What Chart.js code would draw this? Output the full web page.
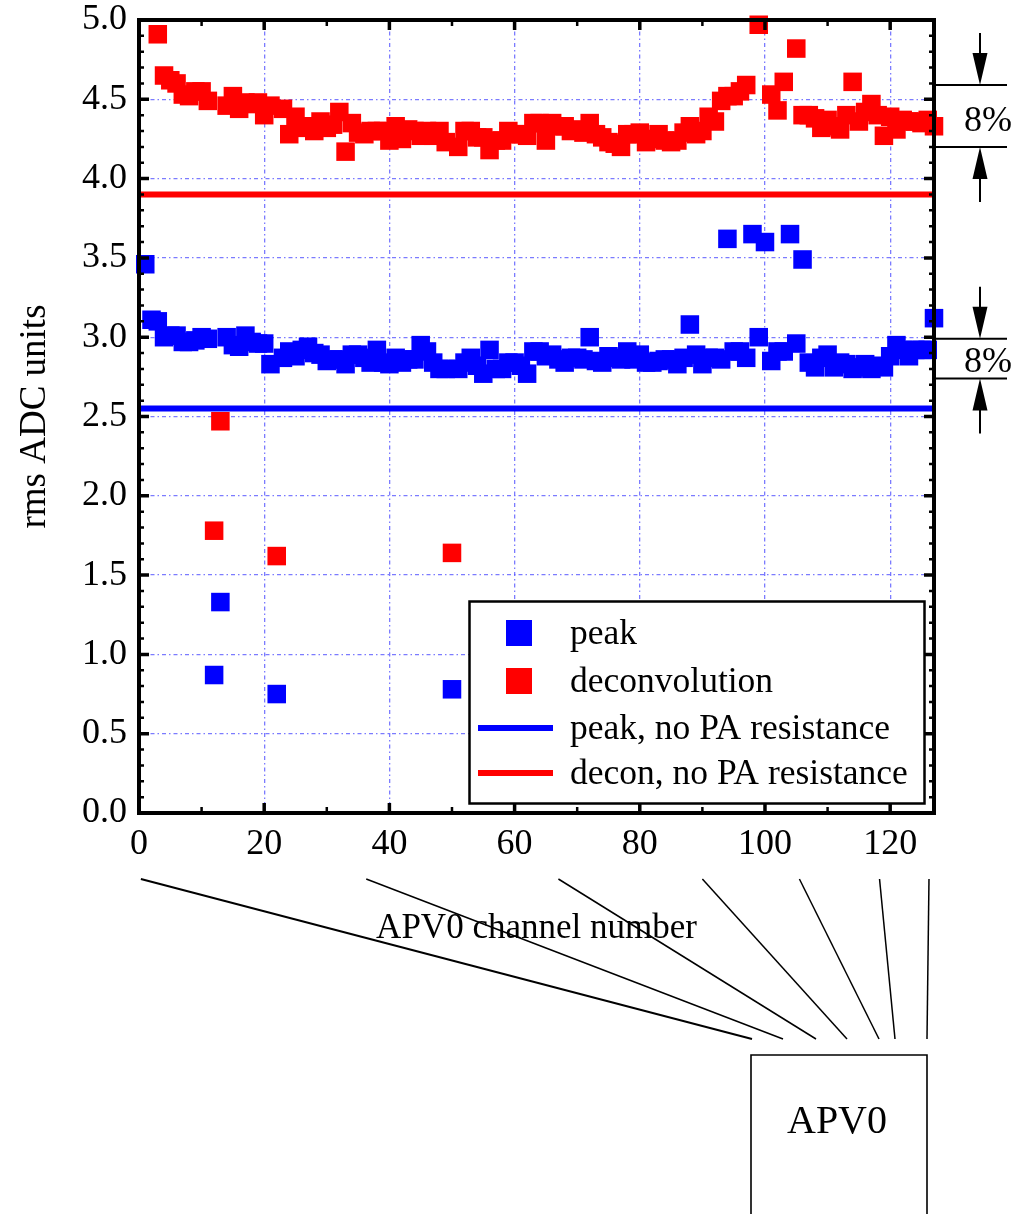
<!DOCTYPE html>
<html><head><meta charset="utf-8">
<script src="https://cdn.jsdelivr.net/npm/chart.js@4.4.0/dist/chart.umd.min.js"></script>
<style>html,body{margin:0;padding:0;background:#fff;} #wrap{position:relative;width:1026px;height:1214px;}</style>
</head><body><div id="wrap"><canvas id="c" width="1026" height="1214"></canvas></div>
<script>
// ---------- data ----------
const channels = [0,1,2,3,4,5,6,7,8,9,10,11,12,13,14,15,16,17,18,19,20,21,22,23,24,25,26,27,28,29,
30,31,32,33,34,35,36,37,38,39,40,41,42,43,44,45,46,47,48,49,50,51,52,53,54,55,56,57,58,59,
60,61,62,63,64,65,66,67,68,69,70,71,72,73,74,75,76,77,78,79,80,81,82,83,84,85,86,87,88,89,
90,91,92,93,94,95,96,97,98,99,100,101,102,103,104,105,106,107,108,109,110,111,112,113,114,115,116,117,118,119,
120,121,122,123,124,125,126,127];

const peak = [null,3.46,3.11,3.10,3.00,3.01,3.01,2.97,2.97,2.98,3.00,2.99,0.87,1.33,3.00,2.95,2.94,3.01,2.97,2.96,
2.96,2.83,0.75,2.87,2.91,2.88,2.92,2.94,2.90,2.89,2.85,2.86,2.86,2.83,2.89,2.89,2.87,2.84,2.92,2.84,
2.83,2.87,2.84,2.86,2.86,2.95,2.91,2.84,2.80,2.80,0.78,2.80,2.84,2.87,2.82,2.77,2.92,2.80,2.80,2.84,
2.84,2.82,2.77,2.91,2.91,2.88,2.89,2.86,2.84,2.87,2.87,2.86,3.00,2.85,2.84,2.88,2.87,2.86,2.91,2.86,
2.89,2.84,2.84,2.85,2.86,2.86,2.83,2.87,3.08,2.89,2.83,2.87,2.87,2.86,3.62,2.91,2.91,2.87,3.65,3.00,
3.60,2.85,2.91,2.91,3.65,2.96,3.49,2.84,2.81,2.87,2.89,2.81,2.84,2.83,2.80,2.81,2.83,2.80,2.82,2.81,
2.88,2.95,2.92,2.88,2.92,2.92,2.92,3.12];

const decon = [null,null,null,4.91,4.65,4.62,4.60,4.53,4.52,4.55,4.55,4.49,1.78,2.47,4.46,4.52,4.44,4.48,4.47,4.48,
4.40,4.46,1.62,4.44,4.28,4.39,4.32,4.33,4.30,4.36,4.32,4.34,4.42,4.17,4.35,4.29,4.28,4.30,4.30,4.30,
4.24,4.33,4.25,4.31,4.30,4.27,4.30,4.27,4.30,4.23,1.64,4.20,4.30,4.30,4.26,4.26,4.18,4.24,4.24,4.30,
4.28,4.28,4.27,4.35,4.35,4.24,4.35,4.33,4.33,4.30,4.31,4.29,4.35,4.28,4.26,4.23,4.22,4.20,4.28,4.28,
4.29,4.23,4.25,4.28,4.24,4.23,4.24,4.29,4.33,4.28,4.30,4.39,4.36,4.49,4.52,4.52,4.55,4.59,null,4.97,
null,4.53,4.43,4.61,null,4.82,4.40,4.40,4.38,4.32,4.37,4.33,4.31,4.40,4.61,4.36,4.42,4.47,4.40,4.27,
4.39,4.31,4.37,4.36,4.36,4.35,4.37,4.33];

const peakNoPA = 2.55;
const deconNoPA = 3.90;
const xRange = [0, 127];
const yRange = [0, 5];
const xTickValues = [0, 20, 40, 60, 80, 100, 120];
const yTickStep = 0.5;
const seriesLabels = ['peak', 'deconvolution', 'peak, no PA resistance', 'decon, no PA resistance'];
const pctBrackets = [[4.59, 4.20], [2.99, 2.74]];
const pctLabel = '8%';
const fanChannels = [0.3, 36.3, 67, 90, 105.5, 118.3, 126.2];
const chipLabel = 'APV0';
const xTitle = 'APV0 channel number';
const yTitle = 'rms ADC units';

// ---------- chart ----------
const FONT = "'Liberation Serif','Times New Roman',serif";
Chart.defaults.font.family = FONT;
Chart.defaults.color = '#000';

const pts = arr => channels.map((c, i) => ({x: c, y: arr[i]})).filter(p => p.y !== null);
const hline = v => [{x: xRange[0], y: v}, {x: xRange[1], y: v}];

const overlay = {
  id: 'overlay',
  afterDraw(chart) {
    const {ctx, chartArea: a, scales: {x, y}} = chart;
    ctx.save();
    // frame
    ctx.strokeStyle = '#000';
    ctx.lineWidth = 4;
    ctx.strokeRect(a.left, a.top, a.right - a.left, a.bottom - a.top);
    // y ticks
    for (let k = 0; k <= 50; k++) {
      const v = k / 10;
      const py = y.getPixelForValue(v);
      const major = k % 5 === 0;
      const len = major ? 10 : 5;
      ctx.lineWidth = major ? 3.5 : 2.5;
      ctx.beginPath();
      ctx.moveTo(a.left, py); ctx.lineTo(a.left + len, py);
      ctx.moveTo(a.right, py); ctx.lineTo(a.right - len, py);
      ctx.stroke();
    }
    // x ticks
    for (let v = 0; v <= 120; v += 10) {
      const px = x.getPixelForValue(v);
      const major = v % 20 === 0;
      const len = major ? 10 : 6;
      ctx.lineWidth = major ? 3.5 : 2.5;
      ctx.beginPath();
      ctx.moveTo(px, a.bottom); ctx.lineTo(px, a.bottom - len);
      ctx.moveTo(px, a.top); ctx.lineTo(px, a.top + len);
      ctx.stroke();
    }
    // legend
    const L = {x: 469.5, y: 601.5, w: 455, h: 202};
    ctx.fillStyle = '#fff';
    ctx.fillRect(L.x, L.y, L.w, L.h);
    ctx.lineWidth = 2.5;
    ctx.strokeStyle = '#000';
    ctx.strokeRect(L.x, L.y, L.w, L.h);
    const rows = [633, 681, 728, 773];
    const ds = chart.data.datasets;
    ctx.font = '35.5px ' + FONT;
    ctx.textBaseline = 'middle';
    ctx.textAlign = 'left';
    rows.forEach((ry, i) => {
      const d = ds[i];
      if (i < 2) {
        ctx.fillStyle = d.backgroundColor;
        ctx.fillRect(506, ry - 13, 26, 26);
      } else {
        ctx.strokeStyle = d.borderColor;
        ctx.lineWidth = 6;
        ctx.beginPath(); ctx.moveTo(478, ry); ctx.lineTo(553, ry); ctx.stroke();
      }
      ctx.fillStyle = '#000';
      ctx.fillText(d.label, 570, ry + 2);
    });
    // 8% brackets
    const ax = 980, hx0 = a.right, hx1 = 1007;
    const baseOff = [16, 6];
    pctBrackets.forEach(([hi, lo], j) => {
      const y1 = y.getPixelForValue(hi), y2 = y.getPixelForValue(lo);
      ctx.strokeStyle = '#000'; ctx.fillStyle = '#000';
      ctx.lineWidth = 2;
      ctx.beginPath();
      ctx.moveTo(hx0, y1); ctx.lineTo(hx1, y1);
      ctx.moveTo(hx0, y2); ctx.lineTo(hx1, y2);
      ctx.moveTo(ax, y1 - 52); ctx.lineTo(ax, y1 - 20);
      ctx.moveTo(ax, y2 + 20); ctx.lineTo(ax, y2 + 55);
      ctx.stroke();
      ctx.beginPath();
      ctx.moveTo(ax, y1); ctx.lineTo(ax - 7.5, y1 - 32); ctx.lineTo(ax + 7.5, y1 - 32); ctx.closePath();
      ctx.moveTo(ax, y2); ctx.lineTo(ax - 7.5, y2 + 32); ctx.lineTo(ax + 7.5, y2 + 32); ctx.closePath();
      ctx.fill();
      ctx.font = '36px ' + FONT;
      ctx.textAlign = 'center';
      ctx.textBaseline = 'alphabetic';
      ctx.fillText(pctLabel, 988, y2 - baseOff[j]);
    });
    // fan lines to chip
    const fanEnds = [752, 783, 816, 847, 879, 895, 927];
    ctx.strokeStyle = '#000';
    fanChannels.forEach((c, i) => {
      ctx.lineWidth = i === 0 ? 2 : 1.5;
      ctx.beginPath();
      ctx.moveTo(x.getPixelForValue(c), 879);
      ctx.lineTo(fanEnds[i], 1039);
      ctx.stroke();
    });
    // chip box
    ctx.lineWidth = 1.6;
    ctx.beginPath();
    ctx.moveTo(751, 1220); ctx.lineTo(751, 1055); ctx.lineTo(927, 1055); ctx.lineTo(927, 1220);
    ctx.stroke();
    ctx.font = '40px ' + FONT;
    ctx.textAlign = 'center';
    ctx.textBaseline = 'middle';
    ctx.fillText(chipLabel, 837, 1122);
    ctx.restore();
  }
};

new Chart(document.getElementById('c'), {
  type: 'scatter',
  data: {
    datasets: [
      {label: seriesLabels[0], data: pts(peak), backgroundColor: '#0000ff', borderColor: '#0000ff', clip: false,
       pointStyle: 'rect', pointRadius: 13.1, pointBorderWidth: 0, pointHoverRadius: 13.1},
      {label: seriesLabels[1], data: pts(decon), backgroundColor: '#ff0000', borderColor: '#ff0000', clip: false,
       pointStyle: 'rect', pointRadius: 13.1, pointBorderWidth: 0, pointHoverRadius: 13.1},
      {label: seriesLabels[2], data: hline(peakNoPA), showLine: true, borderColor: '#0000ff',
       backgroundColor: '#0000ff', borderWidth: 6, pointRadius: 0},
      {label: seriesLabels[3], data: hline(deconNoPA), showLine: true, borderColor: '#ff0000',
       backgroundColor: '#ff0000', borderWidth: 6, pointRadius: 0}
    ]
  },
  options: {
    responsive: false,
    animation: false,
    events: [],
    layout: {padding: {left: 0, top: 20, right: 92, bottom: 0}},
    plugins: {legend: {display: false}, tooltip: {enabled: false}},
    scales: {
      x: {
        type: 'linear', min: xRange[0], max: xRange[1],
        ticks: {padding: 10, font: {size: 36}, maxRotation: 0, autoSkip: false},
        afterBuildTicks: s => { s.ticks = xTickValues.map(v => ({value: v})); },
        grid: {color: 'rgba(90,90,255,0.8)', lineWidth: 1.3, drawTicks: false},
        border: {display: false, dash: [4, 3, 1.5, 3]},
        title: {display: true, text: xTitle, font: {size: 35}, padding: {top: 0, bottom: 264}},
        afterFit: s => { s.height = 401; s.paddingLeft = 0; s.paddingRight = 0; s.paddingTop = 0; s.paddingBottom = 0; }
      },
      y: {
        type: 'linear', min: yRange[0], max: yRange[1],
        ticks: {stepSize: yTickStep, padding: 12, font: {size: 36}, callback: v => Number(v).toFixed(1)},
        grid: {color: 'rgba(90,90,255,0.8)', lineWidth: 1.3, drawTicks: false},
        border: {display: false, dash: [4, 3, 1.5, 3]},
        title: {display: true, text: yTitle, font: {size: 37}, padding: {top: 13, bottom: 0}},
        afterFit: s => { s.width = 139; s.paddingLeft = 0; s.paddingRight = 0; s.paddingTop = 0; s.paddingBottom = 0; }
      }
    }
  },
  plugins: [overlay]
});
</script>
</body></html>
